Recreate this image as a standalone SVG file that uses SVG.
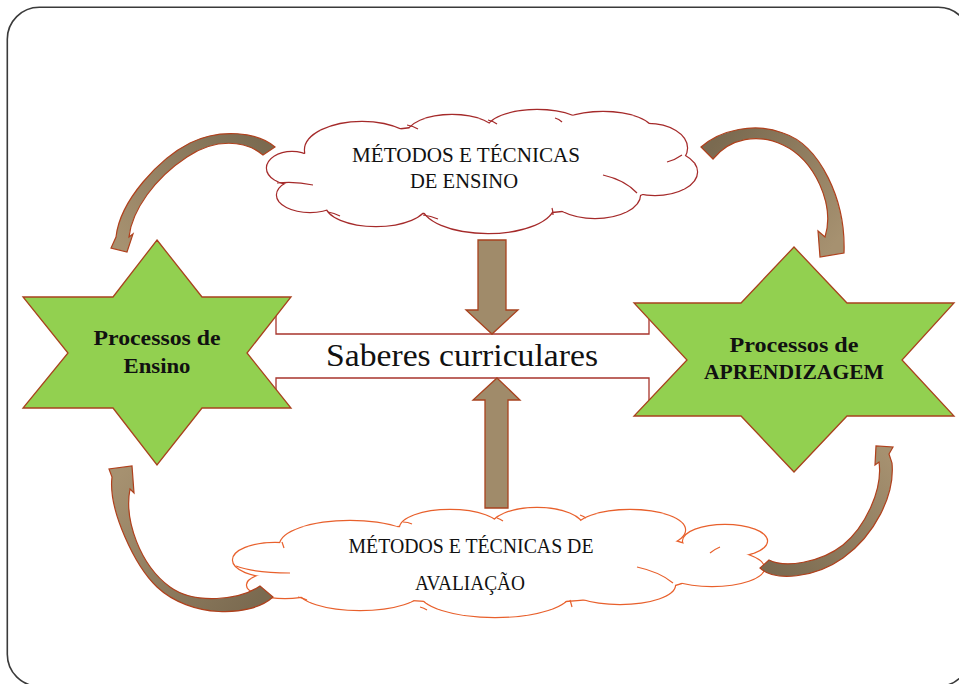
<svg xmlns="http://www.w3.org/2000/svg" xmlns:xlink="http://www.w3.org/1999/xlink" width="959" height="684" viewBox="0 0 959 684">
<style>
.frame{fill:none;stroke:#3a3a3a;stroke-width:1.6}
.star{fill:#92D050;stroke:#A8421E;stroke-width:1.3;stroke-linejoin:miter}
.band{fill:#fff;stroke:#A8352C;stroke-width:1.3}
.sarrow{fill:#A08B6A;stroke:#A8421E;stroke-width:1.3;stroke-linejoin:miter}
.carrow{stroke:#B0401C;stroke-width:1.2;stroke-linejoin:miter}
.t{font-family:"Liberation Serif","Times New Roman",serif;fill:#111;text-anchor:middle}
.tb{font-family:"Liberation Serif","Times New Roman",serif;font-weight:bold;fill:#111;text-anchor:middle;font-size:20px}
.in1{fill:none;stroke:#A52A2A;stroke-width:1.2}
.in2{fill:none;stroke:#E8602C;stroke-width:1.2}
</style>
<defs>
<g id="cloudTopShape">
<ellipse cx="292" cy="168" rx="25" ry="16"/>
<ellipse cx="362" cy="150" rx="57" ry="28"/>
<ellipse cx="452" cy="135" rx="45" ry="20"/>
<ellipse cx="537" cy="130" rx="50" ry="20"/>
<ellipse cx="603" cy="132" rx="50" ry="20"/>
<ellipse cx="648" cy="148" rx="39" ry="24"/>
<ellipse cx="655" cy="172" rx="42" ry="23"/>
<ellipse cx="595" cy="195" rx="45" ry="23"/>
<ellipse cx="488" cy="205" rx="66" ry="28"/>
<ellipse cx="376" cy="205" rx="50" ry="21"/>
<ellipse cx="310" cy="195" rx="33" ry="17"/>
<ellipse cx="482" cy="170" rx="190" ry="45"/>
</g>
<g id="cloudBottomShape">
<ellipse cx="275" cy="560" rx="42" ry="17"/>
<ellipse cx="285" cy="585" rx="38" ry="13"/>
<ellipse cx="360" cy="590" rx="62" ry="20"/>
<ellipse cx="495" cy="593" rx="75" ry="24"/>
<ellipse cx="620" cy="585" rx="55" ry="19"/>
<ellipse cx="712" cy="568" rx="52" ry="18"/>
<ellipse cx="725" cy="541" rx="42" ry="16"/>
<ellipse cx="630" cy="530" rx="55" ry="20"/>
<ellipse cx="537" cy="527" rx="46" ry="19"/>
<ellipse cx="450" cy="528" rx="50" ry="18"/>
<ellipse cx="350" cy="545" rx="70" ry="24"/>
<ellipse cx="495" cy="563" rx="215" ry="40"/>
</g>
<linearGradient id="gTL" gradientUnits="userSpaceOnUse" x1="269" y1="151" x2="122" y2="245">
<stop offset="0" stop-color="#7A6A50"/><stop offset="1" stop-color="#A69170"/></linearGradient>
<linearGradient id="gTR" gradientUnits="userSpaceOnUse" x1="707" y1="153" x2="830" y2="250">
<stop offset="0" stop-color="#7A6A50"/><stop offset="1" stop-color="#A69170"/></linearGradient>
<linearGradient id="gBL" gradientUnits="userSpaceOnUse" x1="266" y1="592" x2="120" y2="475">
<stop offset="0" stop-color="#7A6A50"/><stop offset="1" stop-color="#A69170"/></linearGradient>
<linearGradient id="gBR" gradientUnits="userSpaceOnUse" x1="764" y1="564" x2="884" y2="452">
<stop offset="0" stop-color="#7A6A50"/><stop offset="1" stop-color="#A69170"/></linearGradient>
</defs>

<rect class="frame" x="7.3" y="7.3" width="963" height="679" rx="32"/>

<g id="saberes">
<polygon class="band" points="160,356 276,307 276,334 649,334 649,308 790,356 649,404 649,378 276,378 276,405"/>
<text class="t" x="462" y="366" font-size="32" textLength="272" lengthAdjust="spacingAndGlyphs">Saberes curriculares</text>
</g>

<g id="processos-ensino">
<polygon class="star" points="157,240 202,297 291,297 247,353 291,408 202,408 157,465 113,408 23,408 68,353 23,297 113,297"/>
<text class="tb" x="157" y="345" textLength="127" lengthAdjust="spacingAndGlyphs">Processos de</text>
<text class="tb" x="157" y="373" textLength="67" lengthAdjust="spacingAndGlyphs">Ensino</text>
</g>

<g id="processos-aprendizagem">
<polygon class="star" points="794,247 847,303 954,303 902,360 954,416 847,416 794,472 741,416 634,416 687,360 634,303 741,303"/>
<text class="tb" x="794" y="352" textLength="129" lengthAdjust="spacingAndGlyphs">Processos de</text>
<text class="tb" x="794" y="379" textLength="180" lengthAdjust="spacingAndGlyphs">APRENDIZAGEM</text>
</g>

<g id="metodos-ensino">
<use xlink:href="#cloudTopShape" href="#cloudTopShape" fill="none" stroke="#A52A2A" stroke-width="2.4"/>
<use xlink:href="#cloudTopShape" href="#cloudTopShape" fill="#fff" stroke="none"/>
<path class="in1" d="M277,183 Q295,181 313,185 M407,125 Q413,126 418,129 M488,120 Q493,121 497,124 M555,118 Q559,119 562,122 M667,162 Q675,160 682,155 M603,175 Q625,180 637,193 M552,208 Q553,211 553,215 M423,215 Q431,216 438,219 M328,212 Q334,213 340,216"/>
<text class="t" x="466" y="162" font-size="21" textLength="228" lengthAdjust="spacingAndGlyphs">MÉTODOS E TÉCNICAS</text>
<text class="t" x="464" y="188" font-size="21" textLength="108" lengthAdjust="spacingAndGlyphs">DE ENSINO</text>
</g>

<g id="metodos-avaliacao">
<use xlink:href="#cloudBottomShape" href="#cloudBottomShape" fill="none" stroke="#E8602C" stroke-width="2.4"/>
<use xlink:href="#cloudBottomShape" href="#cloudBottomShape" fill="#fff" stroke="none"/>
<path class="in2" d="M236,566 Q255,573 290,573 M282,542 Q283,545 284,548 M403,522 Q408,522 412,524 M497,518 Q500,519 503,521 M580,515 Q583,516 586,518 M710,553 Q715,549 720,547 M637,567 Q660,572 673,583 M570,600 Q571,603 572,607 M420,607 Q424,608 427,610 M298,597 Q303,598 307,600"/>
<text class="t" x="471" y="553" font-size="20" textLength="245" lengthAdjust="spacingAndGlyphs">MÉTODOS E TÉCNICAS DE</text>
<text class="t" x="470" y="590" font-size="20" textLength="110" lengthAdjust="spacingAndGlyphs">AVALIAÇÃO</text>
</g>

<g id="connectors">
<path class="sarrow" d="M478,240 H506 V310 H518 L492,334 L466,310 H478 Z"/>
<path class="sarrow" d="M497,378 L520,400 H508 V508 H485 V400 H473 Z"/>
<path class="carrow" fill="url(#gTL)" d="M275,147 C258,132 220,128 190,143 C160,158 120,200 116,237 L111,248 L127,252 L133,234 L129,237 C132,210 155,178 187,157 C215,138 245,140 263,155 Z"/>
<path class="carrow" fill="url(#gTR)" d="M701,147 C720,130 755,122 783,133 C820,145 846,200 844,253 L820,257 L818,231 L825,237 C835,205 815,160 783,145 C758,133 730,138 713,159 Z"/>
<path class="carrow" fill="url(#gBL)" d="M273,597 C250,618 190,618 157,587 C135,566 108,510 112,477 L109,469 L132,466 L134,493 L130,489 C124,520 140,565 170,587 C195,605 240,600 260,586 Z"/>
<path class="carrow" fill="url(#gBR)" d="M760,568 C775,582 815,578 843,558 C875,535 895,495 892,463 L889,454 L893,447 L876,446 L875,465 L879,462 C883,490 865,527 843,545 C820,563 785,568 769,560 Z"/>
</g>
</svg>
